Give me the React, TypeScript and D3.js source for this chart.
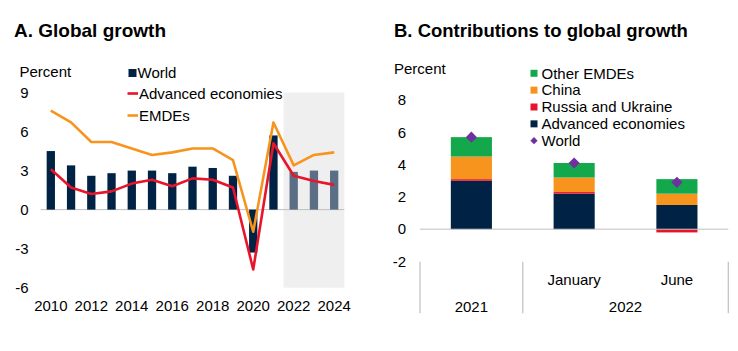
import React, { useEffect, useRef } from 'react';
import * as d3 from 'd3';

// Panel A data
const years = [2010, 2011, 2012, 2013, 2014, 2015, 2016, 2017, 2018, 2019, 2020, 2021, 2022, 2023, 2024];
const forecastYears = [2022, 2023, 2024];
const worldGrowth = [4.5, 3.4, 2.6, 2.8, 3.0, 3.0, 2.8, 3.3, 3.2, 2.6, -3.3, 5.7, 2.9, 3.0, 3.0];
const advancedGrowth = [3.1, 1.7, 1.2, 1.4, 2.0, 2.3, 1.8, 2.4, 2.3, 1.7, -4.6, 5.1, 2.6, 2.2, 1.9];
const emdeGrowth = [7.6, 6.7, 5.2, 5.2, 4.7, 4.2, 4.4, 4.7, 4.7, 3.8, -1.7, 6.7, 3.4, 4.2, 4.4];
const yTicksA = [-6, -3, 0, 3, 6, 9];
const xTickYears = [2010, 2012, 2014, 2016, 2018, 2020, 2022, 2024];

// Panel B data
const periods = ['2021', 'January', 'June'];
const periodLabels = ['', 'January', 'June'];
const advancedContrib = [3.0, 2.2, 1.5];
const russiaUkraineContrib = [0.1, 0.1, -0.2];
const chinaContrib = [1.4, 0.9, 0.7];
const otherEmdeContrib = [1.2, 0.9, 0.9];
const worldTotal = [5.7, 4.1, 2.9];
const yTicksB = [-2, 0, 2, 4, 6, 8];

const FONT = 'Liberation Sans, Arial, sans-serif';
const NAVY = '#002345';
const SLATE = '#5b6e86';
const RED = '#e8142a';
const ORANGE = '#f7941d';
const GREEN = '#13a84b';
const PURPLE = '#7030a0';

const App: React.FC = () => {
  const svgRef = useRef<SVGSVGElement>(null);

  useEffect(() => {
    if (!svgRef.current) return;
    const svg = d3.select(svgRef.current);
    svg.selectAll('*').remove();

    // ---------- Panel A ----------
    svg.append('text')
      .attr('x', 14).attr('y', 36.5)
      .attr('font-family', FONT).attr('font-weight', 'bold').style('font-size', '19px')
      .attr('fill', '#000')
      .text('A. Global growth');

    const xA = d3.scaleBand<number>().domain(years).range([40.7, 344.3]).padding(0);
    const yA = d3.scaleLinear().domain([-6, 9]).range([287.7, 92.5]);
    const barW = xA.bandwidth() * 0.41;
    const cx = (yr: number) => (xA(yr) as number) + xA.bandwidth() / 2;

    // forecast shading
    svg.append('rect')
      .attr('x', xA(forecastYears[0]) as number)
      .attr('y', yA(9))
      .attr('width', xA.range()[1] - (xA(forecastYears[0]) as number))
      .attr('height', yA(-6) - yA(9))
      .attr('fill', '#efefef');

    svg.append('line')
      .attr('x1', xA.range()[0]).attr('x2', xA.range()[1])
      .attr('y1', yA(0)).attr('y2', yA(0))
      .attr('stroke', '#bfbfbf').attr('stroke-width', 1);

    svg.append('g').selectAll('rect')
      .data(years)
      .enter()
      .append('rect')
      .attr('x', (d: number) => cx(d) - barW / 2)
      .attr('width', barW)
      .attr('y', (d: number, i: number) => yA(Math.max(0, worldGrowth[i])))
      .attr('height', (d: number, i: number) => Math.abs(yA(worldGrowth[i]) - yA(0)))
      .attr('fill', (d: number) => (forecastYears.includes(d) ? SLATE : NAVY));

    const lineA = d3.line<number>()
      .x((d: number, i: number) => cx(years[i]))
      .y((d: number) => yA(d));

    svg.append('path')
      .attr('d', lineA(advancedGrowth))
      .attr('fill', 'none').attr('stroke', RED).attr('stroke-width', 2.6)
      .attr('stroke-linejoin', 'round');
    svg.append('path')
      .attr('d', lineA(emdeGrowth))
      .attr('fill', 'none').attr('stroke', ORANGE).attr('stroke-width', 2.6)
      .attr('stroke-linejoin', 'round');

    // axes labels
    svg.append('g').selectAll('text')
      .data(yTicksA)
      .enter()
      .append('text')
      .attr('x', 28.5).attr('y', (d: number) => yA(d)).attr('dy', '0.35em')
      .attr('text-anchor', 'end')
      .attr('font-family', FONT).style('font-size', '15px').attr('fill', '#000')
      .text((d: number) => d);

    svg.append('g').selectAll('text')
      .data(xTickYears)
      .enter()
      .append('text')
      .attr('x', (d: number) => cx(d)).attr('y', 311)
      .attr('text-anchor', 'middle')
      .attr('font-family', FONT).style('font-size', '15px').attr('fill', '#000')
      .text((d: number) => d);

    svg.append('text')
      .attr('x', 19.5).attr('y', 71.7).attr('dy', '0.35em')
      .attr('font-family', FONT).style('font-size', '15px').attr('fill', '#000')
      .text('Percent');

    // legend A
    const legA = svg.append('g').attr('font-family', FONT).style('font-size', '15px');
    legA.append('rect').attr('x', 128.5).attr('y', 69).attr('width', 8).attr('height', 8).attr('fill', NAVY);
    legA.append('text').attr('x', 137.5).attr('y', 72.7).attr('dy', '0.35em').text('World');
    legA.append('line').attr('x1', 127.5).attr('x2', 138).attr('y1', 93.5).attr('y2', 93.5)
      .attr('stroke', RED).attr('stroke-width', 2.6);
    legA.append('text').attr('x', 139).attr('y', 94).attr('dy', '0.35em').text('Advanced economies');
    legA.append('line').attr('x1', 127.5).attr('x2', 138).attr('y1', 115.5).attr('y2', 115.5)
      .attr('stroke', ORANGE).attr('stroke-width', 2.6);
    legA.append('text').attr('x', 139).attr('y', 116).attr('dy', '0.35em').text('EMDEs');

    // ---------- Panel B ----------
    svg.append('text')
      .attr('x', 394).attr('y', 36.5)
      .attr('font-family', FONT).attr('font-weight', 'bold').style('font-size', '18.5px')
      .attr('fill', '#000')
      .text('B. Contributions to global growth');

    const xB = d3.scaleBand<string>().domain(periods).range([420, 728.3]).padding(0);
    const yB = d3.scaleLinear().domain([-2, 8]).range([261.5, 100]);
    const barWB = xB.bandwidth() * 0.4;
    const cxB = (p: string) => (xB(p) as number) + xB.bandwidth() / 2;

    const keys = ['advanced', 'russia', 'china', 'other'];
    const colors: Record<string, string> = { advanced: NAVY, russia: RED, china: ORANGE, other: GREEN };
    const table = periods.map((p, i) => ({
      period: p,
      advanced: advancedContrib[i],
      russia: russiaUkraineContrib[i],
      china: chinaContrib[i],
      other: otherEmdeContrib[i],
    }));
    const stacked = d3.stack<any>().keys(keys).offset(d3.stackOffsetDiverging)(table);

    svg.append('g').selectAll('g')
      .data(stacked)
      .enter()
      .append('g')
      .attr('fill', (s: any) => colors[s.key])
      .selectAll('rect')
      .data((s: any) => s)
      .enter()
      .append('rect')
      .attr('x', (d: any) => cxB(d.data.period) - barWB / 2)
      .attr('width', barWB)
      .attr('y', (d: any) => yB(Math.max(d[0], d[1])))
      .attr('height', (d: any) => Math.abs(yB(d[0]) - yB(d[1])));

    svg.append('line')
      .attr('x1', xB.range()[0]).attr('x2', xB.range()[1])
      .attr('y1', yB(0)).attr('y2', yB(0))
      .attr('stroke', '#bfbfbf').attr('stroke-width', 1);

    const diamond = d3.symbol().type(d3.symbolSquare).size(62);
    svg.append('g').selectAll('path')
      .data(worldTotal)
      .enter()
      .append('path')
      .attr('d', diamond() as string)
      .attr('transform', (d: number, i: number) => `translate(${cxB(periods[i])},${yB(d)}) rotate(45)`)
      .attr('fill', PURPLE);

    // category separators
    const seps = [xB.range()[0], xB('January') as number, xB.range()[1]];
    svg.append('g').selectAll('line')
      .data(seps)
      .enter()
      .append('line')
      .attr('x1', (d: number) => d).attr('x2', (d: number) => d)
      .attr('y1', 261.7).attr('y2', 313.3)
      .attr('stroke', '#bfbfbf').attr('stroke-width', 1.2);

    svg.append('g').selectAll('text')
      .data(periods)
      .enter()
      .append('text')
      .attr('x', (d: string) => cxB(d)).attr('y', 285)
      .attr('text-anchor', 'middle')
      .attr('font-family', FONT).style('font-size', '15px').attr('fill', '#000')
      .text((d: string, i: number) => periodLabels[i]);

    svg.append('text')
      .attr('x', cxB('2021')).attr('y', 311.5)
      .attr('text-anchor', 'middle')
      .attr('font-family', FONT).style('font-size', '15px').attr('fill', '#000')
      .text('2021');
    svg.append('text')
      .attr('x', ((xB('January') as number) + xB.range()[1]) / 2).attr('y', 311.5)
      .attr('text-anchor', 'middle')
      .attr('font-family', FONT).style('font-size', '15px').attr('fill', '#000')
      .text('2022');

    svg.append('g').selectAll('text')
      .data(yTicksB)
      .enter()
      .append('text')
      .attr('x', 406).attr('y', (d: number) => yB(d)).attr('dy', '0.35em')
      .attr('text-anchor', 'end')
      .attr('font-family', FONT).style('font-size', '15px').attr('fill', '#000')
      .text((d: number) => d);

    svg.append('text')
      .attr('x', 394).attr('y', 69).attr('dy', '0.35em')
      .attr('font-family', FONT).style('font-size', '15px').attr('fill', '#000')
      .text('Percent');

    // legend B
    const legendItems = [
      { label: 'Other EMDEs', color: GREEN },
      { label: 'China', color: ORANGE },
      { label: 'Russia and Ukraine', color: RED },
      { label: 'Advanced economies', color: NAVY },
    ];
    const legB = svg.append('g').attr('font-family', FONT).style('font-size', '15px');
    const rowY = (i: number) => 73.3 + i * 16.85;
    legendItems.forEach((item, i) => {
      legB.append('rect').attr('x', 530.5).attr('y', rowY(i) - 3.5).attr('width', 7).attr('height', 7).attr('fill', item.color);
      legB.append('text').attr('x', 541.5).attr('y', rowY(i)).attr('dy', '0.35em').text(item.label);
    });
    legB.append('path')
      .attr('d', d3.symbol().type(d3.symbolSquare).size(26)() as string)
      .attr('transform', `translate(534,${rowY(4)}) rotate(45)`)
      .attr('fill', PURPLE);
    legB.append('text').attr('x', 541.5).attr('y', rowY(4)).attr('dy', '0.35em').text('World');
  }, []);

  return (
    <svg
      ref={svgRef}
      width={738}
      height={351}
      style={{ position: 'absolute', left: 0, top: 0, background: '#fff', display: 'block' }}
    />
  );
};

export default App;
